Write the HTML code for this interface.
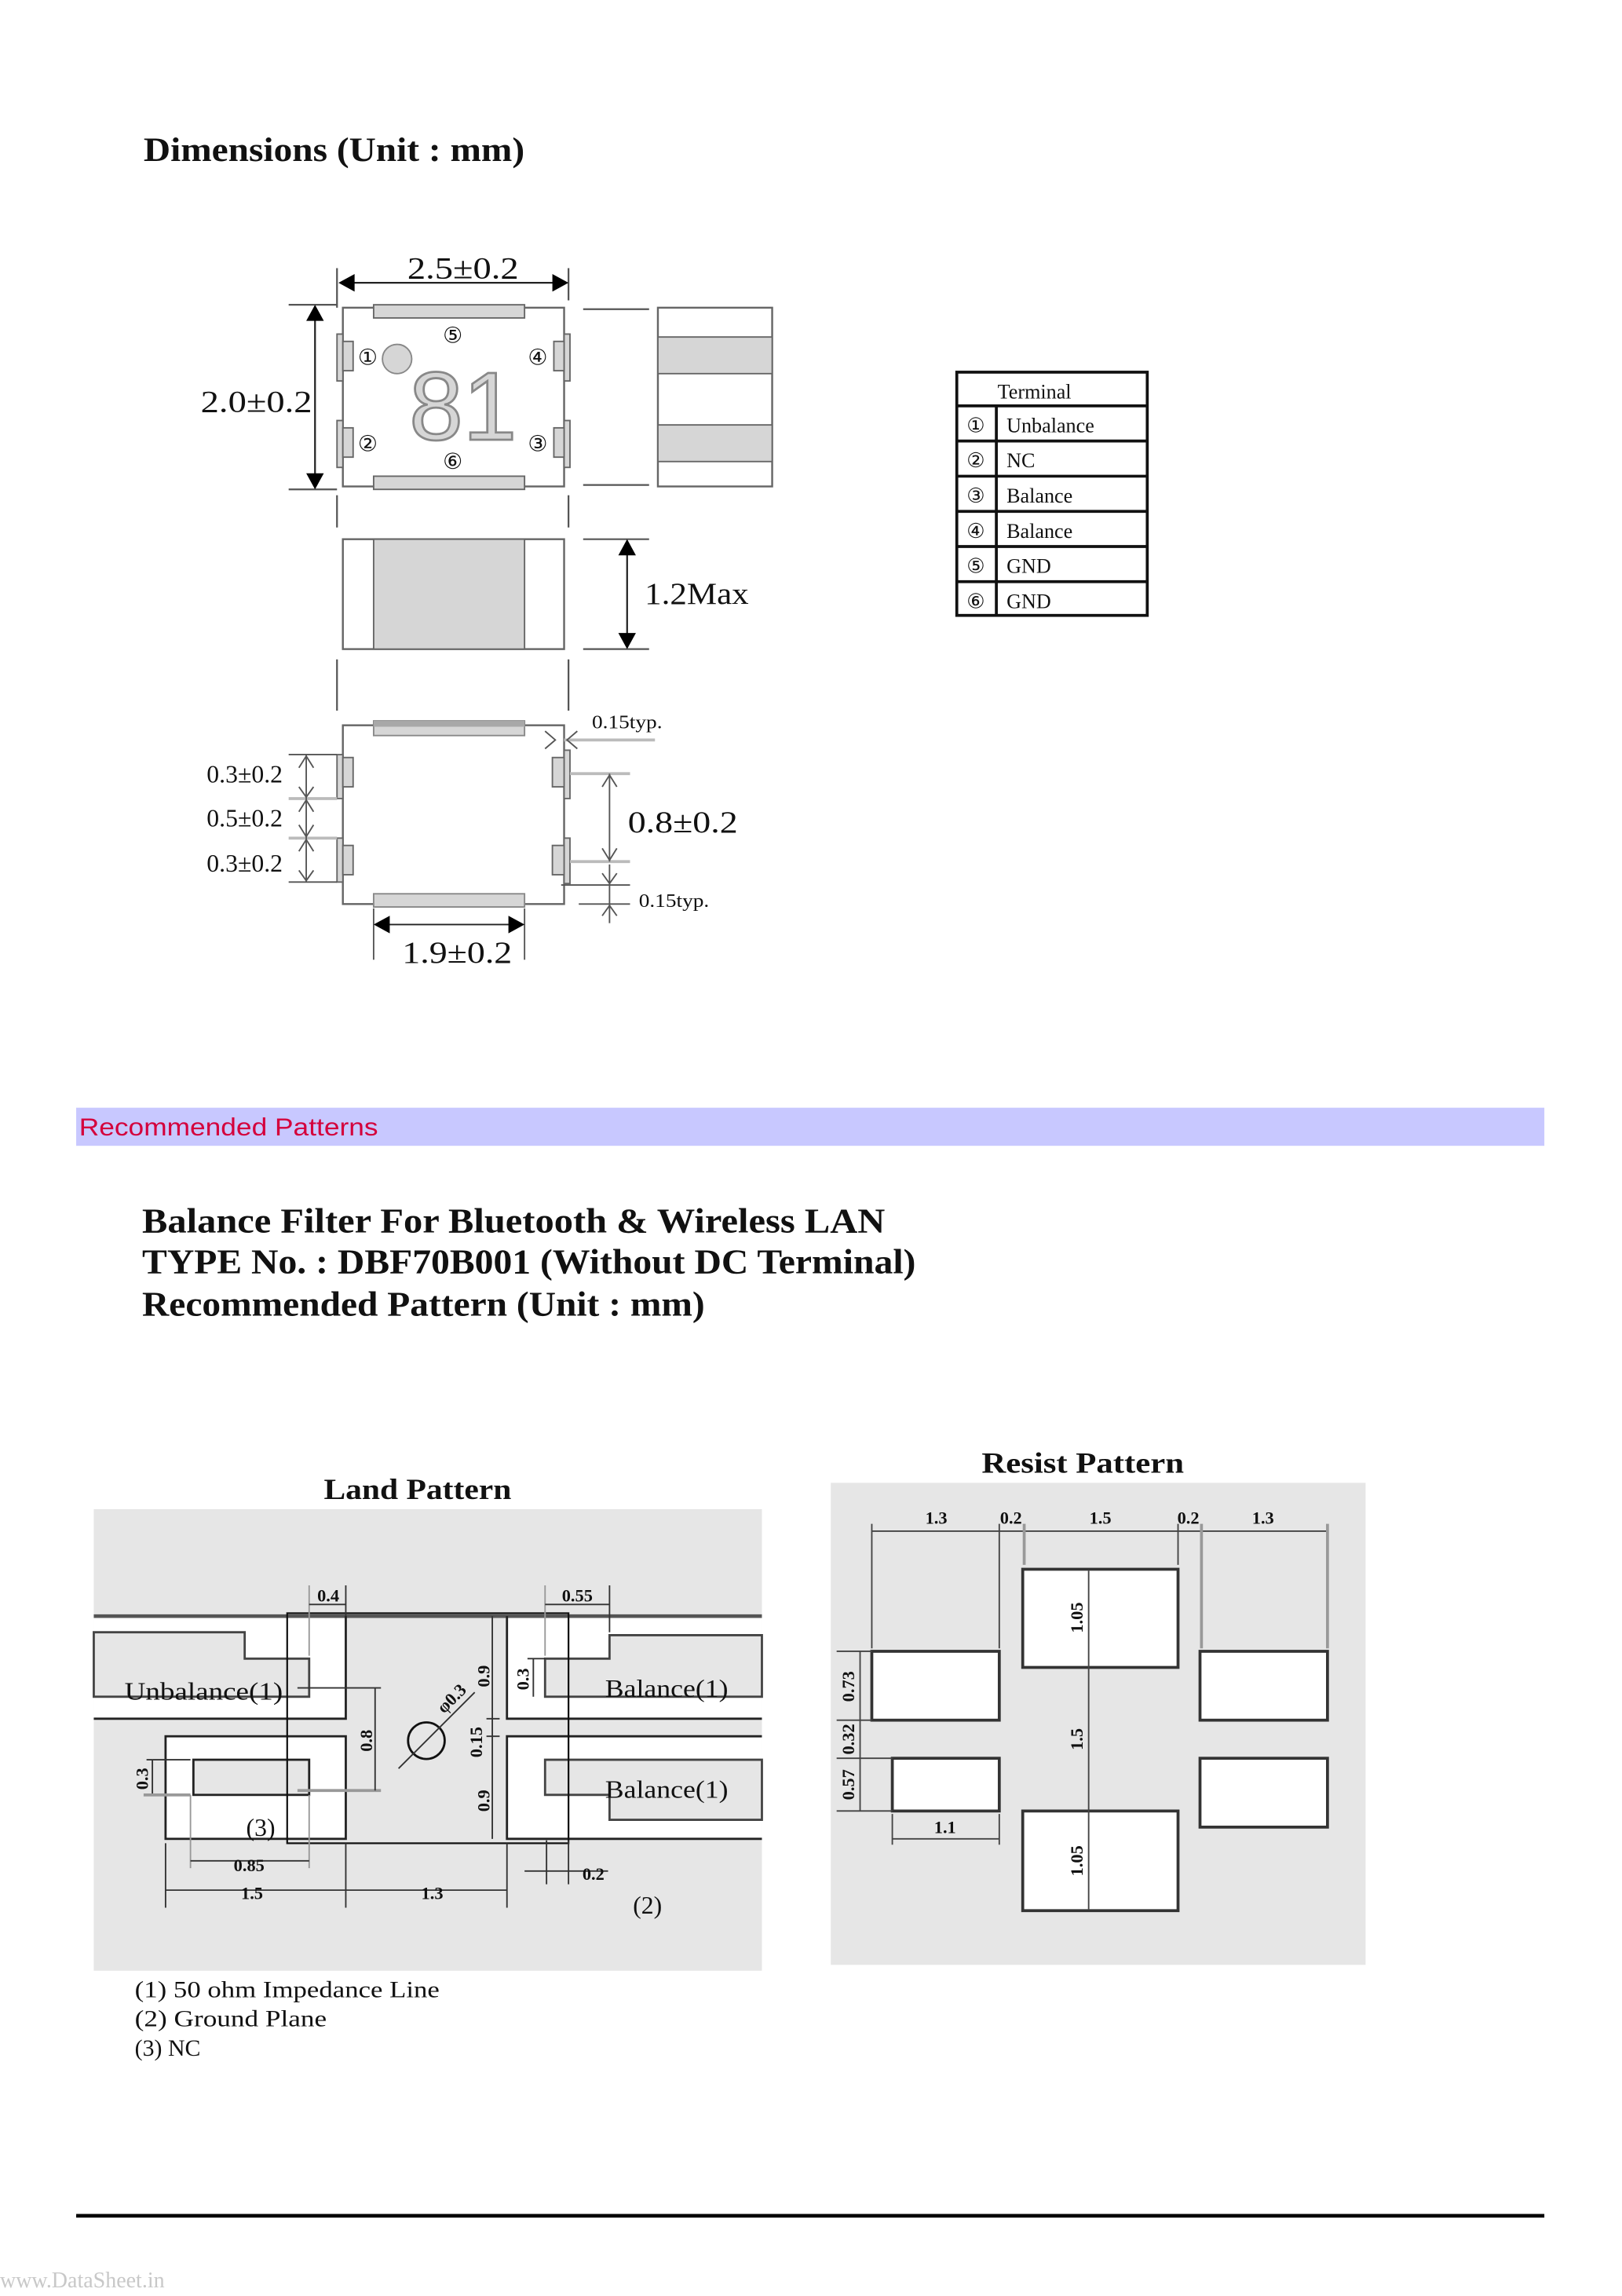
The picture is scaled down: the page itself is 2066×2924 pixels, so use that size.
<!DOCTYPE html>
<html><head><meta charset="utf-8"><style>
html,body{margin:0;padding:0;background:#fff;}
svg{display:block;}
text{font-family:"Liberation Serif",serif;fill:#111;}
.s{font-family:"Liberation Sans",sans-serif;}
</style></head><body>
<svg width="2066" height="2924" viewBox="0 0 1107 1567" preserveAspectRatio="none" xmlns="http://www.w3.org/2000/svg">
<rect width="1107" height="1567" fill="#fff"/>
<text x="98" y="110" font-size="23" font-weight="bold" textLength="260" lengthAdjust="spacingAndGlyphs">Dimensions (Unit : mm)</text>

<!-- TOP VIEW -->
<g stroke="#555" stroke-width="1.2" fill="none">
<line x1="230" y1="183" x2="230" y2="210"/><line x1="388" y1="183" x2="388" y2="205"/>
<line x1="236" y1="193" x2="382" y2="193" stroke="#222"/>
<line x1="197" y1="208" x2="230" y2="208"/><line x1="197" y1="334" x2="230" y2="334"/>
<line x1="215" y1="214" x2="215" y2="328" stroke="#222"/>
<line x1="398" y1="211" x2="443" y2="211"/><line x1="398" y1="331" x2="443" y2="331"/>
<line x1="230" y1="338" x2="230" y2="360"/><line x1="388" y1="338" x2="388" y2="360"/>
<line x1="230" y1="450" x2="230" y2="485"/><line x1="388" y1="450" x2="388" y2="485"/>
</g>
<polygon points="231,193 242,187 242,199" fill="#000"/>
<polygon points="388,193 377,187 377,199" fill="#000"/>
<polygon points="215,208 209,219 221,219" fill="#000"/>
<polygon points="215,334 209,323 221,323" fill="#000"/>
<text x="316" y="190" font-size="21" text-anchor="middle" textLength="76" lengthAdjust="spacingAndGlyphs">2.5±0.2</text>
<text x="175" y="281" font-size="21" text-anchor="middle" textLength="76" lengthAdjust="spacingAndGlyphs">2.0±0.2</text>

<rect x="234" y="210" width="151" height="122" fill="#fff" stroke="#666" stroke-width="1.3"/>
<rect x="255" y="208" width="103" height="9" fill="#d6d6d6" stroke="#666"/>
<rect x="255" y="325" width="103" height="9" fill="#d6d6d6" stroke="#666"/>
<g fill="#d6d6d6" stroke="#666" stroke-width="1">
<rect x="230" y="228" width="4" height="32"/><rect x="234" y="233" width="7" height="20"/>
<rect x="230" y="287" width="4" height="32"/><rect x="234" y="292" width="7" height="20"/>
<rect x="385" y="228" width="4" height="32"/><rect x="378" y="233" width="7" height="20"/>
<rect x="385" y="287" width="4" height="32"/><rect x="378" y="292" width="7" height="20"/>
</g>
<circle cx="271" cy="245" r="10" fill="#d6d6d6" stroke="#888"/>
<text x="316" y="300" font-size="66" text-anchor="middle" class="s" stroke="#888" stroke-width="1.5" style="fill:#d6d6d6">81</text>
<g font-size="15" text-anchor="middle">
<text x="251" y="249">①</text><text x="251" y="308">②</text>
<text x="367" y="308">③</text><text x="367" y="249">④</text>
<text x="309" y="234">⑤</text><text x="309" y="320">⑥</text>
</g>

<!-- SIDE VIEW -->
<rect x="449" y="210" width="78" height="122" fill="#fff" stroke="#666" stroke-width="1.3"/>
<rect x="449" y="230" width="78" height="25" fill="#d6d6d6" stroke="#666"/>
<rect x="449" y="290" width="78" height="25" fill="#d6d6d6" stroke="#666"/>

<!-- FRONT VIEW -->
<rect x="234" y="368" width="151" height="75" fill="#fff" stroke="#666" stroke-width="1.3"/>
<rect x="255" y="368" width="103" height="75" fill="#d6d6d6" stroke="#666"/>
<g stroke="#555" stroke-width="1.2"><line x1="398" y1="368" x2="443" y2="368"/><line x1="398" y1="443" x2="443" y2="443"/><line x1="428" y1="374" x2="428" y2="437" stroke="#222"/></g>
<polygon points="428,368 422,379 434,379" fill="#000"/><polygon points="428,443 422,432 434,432" fill="#000"/>
<text x="440" y="412" font-size="21" textLength="71" lengthAdjust="spacingAndGlyphs">1.2Max</text>

<!-- BOTTOM VIEW -->
<rect x="234" y="495" width="151" height="122" fill="#fff" stroke="#666" stroke-width="1.3"/>
<rect x="255" y="492" width="103" height="10" fill="#d6d6d6" stroke="#888"/>
<rect x="255" y="492" width="103" height="4" fill="#a8a8a8"/>
<rect x="255" y="610" width="103" height="9" fill="#d6d6d6" stroke="#888"/>
<g fill="#d6d6d6" stroke="#666" stroke-width="1">
<rect x="230" y="515" width="4" height="30"/><rect x="234" y="517" width="7" height="20"/>
<rect x="230" y="572" width="4" height="30"/><rect x="234" y="577" width="7" height="20"/>
<rect x="385" y="512" width="4" height="33"/><rect x="377" y="517" width="8" height="20"/>
<rect x="385" y="572" width="4" height="31"/><rect x="377" y="577" width="8" height="20"/>
</g>
<g stroke="#555" stroke-width="1" fill="none">
<line x1="197" y1="515" x2="230" y2="515"/><line x1="197" y1="545" x2="230" y2="545" stroke="#bbb" stroke-width="2"/>
<line x1="197" y1="572" x2="230" y2="572" stroke="#bbb" stroke-width="2"/><line x1="197" y1="602" x2="230" y2="602"/>
<line x1="209" y1="515" x2="209" y2="602"/>
<path d="M204,524 L209,516 L214,524 M204,537 L209,544 L214,537 M204,554 L209,546 L214,554 M204,563 L209,571 L214,563 M204,581 L209,573 L214,581 M204,594 L209,601 L214,594"/>
<line x1="385" y1="505" x2="447" y2="505" stroke="#bbb" stroke-width="2"/>
<path d="M372,499 L379,505 L372,511 M394,499 L387,505 L394,511"/>
<line x1="389" y1="528" x2="430" y2="528" stroke="#bbb" stroke-width="2"/><line x1="389" y1="588" x2="430" y2="588" stroke="#bbb" stroke-width="2"/>
<line x1="416" y1="528" x2="416" y2="588"/>
<path d="M411,537 L416,529 L421,537 M411,579 L416,587 L421,579"/>
<line x1="383" y1="604" x2="430" y2="604"/><line x1="395" y1="617" x2="430" y2="617"/>
<line x1="416" y1="590" x2="416" y2="630"/>
<path d="M411,596 L416,603 L421,596 M411,625 L416,618 L421,625"/>
<line x1="255" y1="620" x2="255" y2="655"/><line x1="358" y1="620" x2="358" y2="655"/>
<line x1="262" y1="631" x2="351" y2="631" stroke="#222"/>
</g>
<polygon points="255,631 266,625 266,637" fill="#000"/><polygon points="358,631 347,625 347,637" fill="#000"/>
<text x="404" y="497" font-size="13" textLength="48" lengthAdjust="spacingAndGlyphs">0.15typ.</text>
<text x="436" y="619" font-size="13" textLength="48" lengthAdjust="spacingAndGlyphs">0.15typ.</text>
<text x="466" y="568" font-size="21" text-anchor="middle" textLength="75" lengthAdjust="spacingAndGlyphs">0.8±0.2</text>
<text x="312" y="657" font-size="21" text-anchor="middle" textLength="75" lengthAdjust="spacingAndGlyphs">1.9±0.2</text>
<g font-size="17" text-anchor="middle"><text x="167" y="534">0.3±0.2</text><text x="167" y="564">0.5±0.2</text><text x="167" y="595">0.3±0.2</text></g>

<!-- TERMINAL TABLE -->
<g stroke="#111" stroke-width="2" fill="#fff">
<rect x="653" y="254" width="130" height="166"/>
<line x1="653" y1="277" x2="783" y2="277"/><line x1="653" y1="301" x2="783" y2="301"/>
<line x1="653" y1="325" x2="783" y2="325"/><line x1="653" y1="349" x2="783" y2="349"/>
<line x1="653" y1="373" x2="783" y2="373"/><line x1="653" y1="397" x2="783" y2="397"/>
<line x1="680" y1="277" x2="680" y2="420"/>
</g>
<g font-size="14">
<text x="706" y="272" text-anchor="middle">Terminal</text>
<text x="666" y="295" text-anchor="middle">①</text><text x="687" y="295">Unbalance</text>
<text x="666" y="319" text-anchor="middle">②</text><text x="687" y="319">NC</text>
<text x="666" y="343" text-anchor="middle">③</text><text x="687" y="343">Balance</text>
<text x="666" y="367" text-anchor="middle">④</text><text x="687" y="367">Balance</text>
<text x="666" y="391" text-anchor="middle">⑤</text><text x="687" y="391">GND</text>
<text x="666" y="415" text-anchor="middle">⑥</text><text x="687" y="415">GND</text>
</g>

<!-- BANNER -->
<rect x="52" y="756" width="1002" height="26" fill="#c8c8ff"/>
<text x="54" y="775" font-size="17" class="s" style="fill:#d4003c" textLength="204" lengthAdjust="spacingAndGlyphs">Recommended Patterns</text>

<g font-size="24" font-weight="bold">
<text x="97" y="841" textLength="507" lengthAdjust="spacingAndGlyphs">Balance Filter For Bluetooth &amp; Wireless LAN</text>
<text x="97" y="869" textLength="528" lengthAdjust="spacingAndGlyphs">TYPE No. : DBF70B001 (Without DC Terminal)</text>
<text x="97" y="898" textLength="384" lengthAdjust="spacingAndGlyphs">Recommended Pattern (Unit : mm)</text>
</g>

<!-- LAND PATTERN -->
<text x="285" y="1023" font-size="20" font-weight="bold" text-anchor="middle" textLength="128" lengthAdjust="spacingAndGlyphs">Land Pattern</text>
<rect x="64" y="1030" width="456" height="315" fill="#e6e6e6"/>
<g stroke="#222" stroke-width="1.5">
<rect x="64" y="1103" width="172" height="70" fill="#fff" stroke="none"/>
<rect x="346" y="1103" width="174" height="70" fill="#fff" stroke="none"/>
<rect x="113" y="1185" width="123" height="70" fill="#fff"/>
<rect x="346" y="1185" width="174" height="70" fill="#fff" stroke="none"/>
<line x1="64" y1="1103" x2="520" y2="1103" stroke="#555" stroke-width="2.5"/>
<polyline points="64,1173 236,1173 236,1103" fill="none"/>
<polyline points="520,1173 346,1173 346,1103" fill="none"/>
<polyline points="520,1185 346,1185 346,1255 520,1255" fill="none"/>
<polygon points="64,1114 167,1114 167,1132 211,1132 211,1158 64,1158" fill="#e6e6e6" stroke="#444"/>
<polygon points="520,1116 416,1116 416,1132 372,1132 372,1158 520,1158" fill="#e6e6e6" stroke="#444"/>
<polygon points="520,1201 372,1201 372,1225 416,1225 416,1242 520,1242" fill="#e6e6e6" stroke="#444"/>
<rect x="132" y="1201" width="79" height="24" fill="#e6e6e6"/>
<rect x="196" y="1101" width="192" height="157" fill="none" stroke="#111" stroke-width="1.2"/>
</g>
<circle cx="291" cy="1188" r="12.5" fill="none" stroke="#111" stroke-width="1.5"/>
<g stroke="#333" stroke-width="1" fill="none">
<line x1="272" y1="1207" x2="324" y2="1155"/>
<line x1="211" y1="1082" x2="211" y2="1130" stroke="#999"/><line x1="236" y1="1082" x2="236" y2="1103"/>
<line x1="211" y1="1095" x2="236" y2="1095"/>
<line x1="372" y1="1082" x2="372" y2="1130" stroke="#999"/><line x1="416" y1="1082" x2="416" y2="1114"/>
<line x1="372" y1="1095" x2="416" y2="1095"/>
<line x1="203" y1="1152" x2="260" y2="1152"/><line x1="203" y1="1222" x2="260" y2="1222" stroke="#999" stroke-width="2"/>
<line x1="256" y1="1152" x2="256" y2="1222"/>
<line x1="336" y1="1103" x2="336" y2="1255"/>
<path d="M332,1173 L341,1173 M332,1185 L341,1185"/>
<line x1="364" y1="1132" x2="364" y2="1158"/><path d="M360,1132 L372,1132"/>
<line x1="104" y1="1201" x2="104" y2="1225"/><path d="M100,1201 L130,1201"/><line x1="98" y1="1225" x2="130" y2="1225" stroke="#999" stroke-width="2"/>
<line x1="130" y1="1225" x2="130" y2="1275" stroke="#999"/><line x1="211" y1="1225" x2="211" y2="1275" stroke="#999"/>
<line x1="130" y1="1270" x2="211" y2="1270"/>
<line x1="113" y1="1258" x2="113" y2="1302"/><line x1="236" y1="1258" x2="236" y2="1302"/><line x1="346" y1="1258" x2="346" y2="1302"/>
<line x1="113" y1="1290" x2="346" y2="1290"/>
<line x1="373" y1="1256" x2="373" y2="1286"/><line x1="388" y1="1256" x2="388" y2="1286"/>
<line x1="358" y1="1277" x2="415" y2="1277"/>
</g>
<g font-size="17"><text x="85" y="1160" textLength="108" lengthAdjust="spacingAndGlyphs">Unbalance(1)</text><text x="413" y="1158" textLength="84" lengthAdjust="spacingAndGlyphs">Balance(1)</text><text x="413" y="1227" textLength="84" lengthAdjust="spacingAndGlyphs">Balance(1)</text><text x="168" y="1253">(3)</text><text x="432" y="1306">(2)</text></g>
<g font-size="12" font-weight="bold" text-anchor="middle">
<text x="224" y="1093">0.4</text><text x="394" y="1093">0.55</text>
<text x="170" y="1277">0.85</text><text x="172" y="1296">1.5</text><text x="295" y="1296">1.3</text><text x="405" y="1283">0.2</text>
<text transform="translate(254,1188) rotate(-90)">0.8</text>
<text transform="translate(334,1144) rotate(-90)">0.9</text>
<text transform="translate(329,1189) rotate(-90)">0.15</text>
<text transform="translate(334,1229) rotate(-90)">0.9</text>
<text transform="translate(361,1146) rotate(-90)">0.3</text>
<text transform="translate(101,1214) rotate(-90)">0.3</text>
<text transform="translate(311,1162) rotate(-45)">φ0.3</text>
</g>

<!-- RESIST PATTERN -->
<text x="739" y="1005" font-size="20" font-weight="bold" text-anchor="middle" textLength="138" lengthAdjust="spacingAndGlyphs">Resist Pattern</text>
<rect x="567" y="1012" width="365" height="329" fill="#e6e6e6"/>
<g fill="#fff" stroke="#333" stroke-width="2">
<rect x="595" y="1127" width="87" height="47"/>
<rect x="609" y="1200" width="73" height="36"/>
<rect x="698" y="1071" width="106" height="67"/>
<rect x="698" y="1236" width="106" height="68"/>
<rect x="819" y="1127" width="87" height="47"/>
<rect x="819" y="1200" width="87" height="47"/>
</g>
<g stroke="#444" stroke-width="1" fill="none">
<line x1="595" y1="1045" x2="906" y2="1045"/>
<line x1="595" y1="1040" x2="595" y2="1125"/><line x1="682" y1="1040" x2="682" y2="1125"/>
<line x1="699" y1="1040" x2="699" y2="1068" stroke="#999" stroke-width="2"/><line x1="804" y1="1040" x2="804" y2="1068"/>
<line x1="820" y1="1040" x2="820" y2="1125" stroke="#999" stroke-width="2"/><line x1="906" y1="1040" x2="906" y2="1125" stroke="#999" stroke-width="2"/>
<line x1="587" y1="1127" x2="587" y2="1236"/>
<path d="M571,1127 L595,1127 M571,1174 L595,1174 M571,1200 L609,1200 M571,1236 L609,1236"/>
<line x1="609" y1="1238" x2="609" y2="1259"/><line x1="682" y1="1238" x2="682" y2="1259"/>
<line x1="609" y1="1255" x2="682" y2="1255"/>
<line x1="743" y1="1072" x2="743" y2="1303"/>
</g>
<g font-size="12" font-weight="bold" text-anchor="middle">
<text x="639" y="1040">1.3</text><text x="690" y="1040">0.2</text><text x="751" y="1040">1.5</text><text x="811" y="1040">0.2</text><text x="862" y="1040">1.3</text>
<text x="645" y="1251">1.1</text>
<text transform="translate(583,1151) rotate(-90)">0.73</text>
<text transform="translate(583,1187) rotate(-90)">0.32</text>
<text transform="translate(583,1218) rotate(-90)">0.57</text>
<text transform="translate(739,1104) rotate(-90)">1.05</text>
<text transform="translate(739,1187) rotate(-90)">1.5</text>
<text transform="translate(739,1270) rotate(-90)">1.05</text>
</g>

<g font-size="16">
<text x="92" y="1363" textLength="208" lengthAdjust="spacingAndGlyphs">(1) 50 ohm Impedance Line</text>
<text x="92" y="1383" textLength="131" lengthAdjust="spacingAndGlyphs">(2) Ground Plane</text>
<text x="92" y="1403">(3) NC</text>
</g>
<rect x="52" y="1511" width="1002" height="2.5" fill="#000"/>
<text x="0" y="1561" font-size="15" style="fill:#c8c8c8">www.DataSheet.in</text>
</svg>
</body></html>
